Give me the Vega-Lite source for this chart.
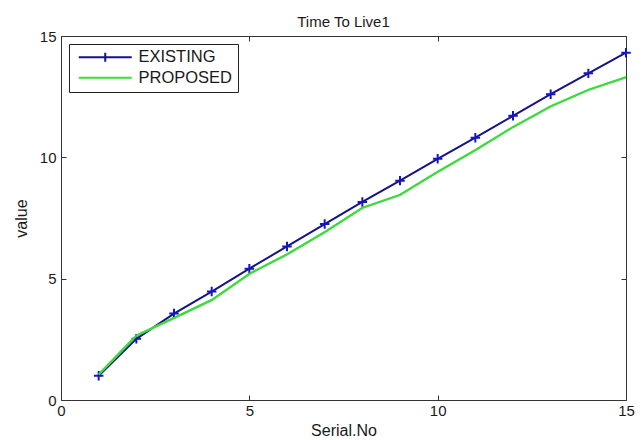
{
  "$schema": "https://vega.github.io/schema/vega-lite/v6.json",
  "width": 565,
  "height": 364,
  "autosize": {"type": "none"},
  "padding": {"left": 61, "top": 36, "right": 16, "bottom": 40},
  "background": "white",
  "title": {"text": "Time To Live1", "font": "Liberation Sans", "fontSize": 15, "fontWeight": "normal", "color": "#1a1a1a", "baseline": "alphabetic", "offset": 10, "dy": 23},
  "data": {
    "values": [
      {"serial": 1, "value": 1.0, "series": "EXISTING"},
      {"serial": 2, "value": 2.52, "series": "EXISTING"},
      {"serial": 3, "value": 3.56, "series": "EXISTING"},
      {"serial": 4, "value": 4.47, "series": "EXISTING"},
      {"serial": 5, "value": 5.41, "series": "EXISTING"},
      {"serial": 6, "value": 6.33, "series": "EXISTING"},
      {"serial": 7, "value": 7.25, "series": "EXISTING"},
      {"serial": 8, "value": 8.16, "series": "EXISTING"},
      {"serial": 9, "value": 9.04, "series": "EXISTING"},
      {"serial": 10, "value": 9.94, "series": "EXISTING"},
      {"serial": 11, "value": 10.81, "series": "EXISTING"},
      {"serial": 12, "value": 11.71, "series": "EXISTING"},
      {"serial": 13, "value": 12.6, "series": "EXISTING"},
      {"serial": 14, "value": 13.46, "series": "EXISTING"},
      {"serial": 15, "value": 14.31, "series": "EXISTING"},
      {"serial": 1, "value": 1.05, "series": "PROPOSED"},
      {"serial": 2, "value": 2.65, "series": "PROPOSED"},
      {"serial": 3, "value": 3.38, "series": "PROPOSED"},
      {"serial": 4, "value": 4.12, "series": "PROPOSED"},
      {"serial": 5, "value": 5.2, "series": "PROPOSED"},
      {"serial": 6, "value": 6.0, "series": "PROPOSED"},
      {"serial": 7, "value": 6.92, "series": "PROPOSED"},
      {"serial": 8, "value": 7.92, "series": "PROPOSED"},
      {"serial": 9, "value": 8.45, "series": "PROPOSED"},
      {"serial": 10, "value": 9.4, "series": "PROPOSED"},
      {"serial": 11, "value": 10.3, "series": "PROPOSED"},
      {"serial": 12, "value": 11.25, "series": "PROPOSED"},
      {"serial": 13, "value": 12.1, "series": "PROPOSED"},
      {"serial": 14, "value": 12.78, "series": "PROPOSED"},
      {"serial": 15, "value": 13.3, "series": "PROPOSED"}
    ]
  },
  "layer": [
    {
      "encoding": {
        "x": {"field": "serial", "type": "quantitative", "scale": {"domain": [0, 15], "nice": false, "zero": false},
              "axis": {"values": [0, 5, 10, 15], "title": "Serial.No", "titleY": 35, "titleBaseline": "alphabetic", "labelPadding": 8}},
        "y": {"field": "value", "type": "quantitative", "scale": {"domain": [0, 15], "nice": false, "zero": false},
              "axis": {"values": [0, 5, 10, 15], "title": "value", "titleX": -35, "titleBaseline": "alphabetic", "labelPadding": 10}}
      },
      "layer": [
        {
          "mark": {"type": "line", "strokeWidth": 2},
          "encoding": {
            "color": {"field": "series", "type": "nominal",
              "scale": {"domain": ["EXISTING", "PROPOSED"], "range": ["#14148a", "#3ddc3d"]},
              "legend": {
                "title": null, "orient": "none", "legendX": 8, "legendY": 8,
                "strokeColor": "#222", "fillColor": "white", "padding": 5,
                "symbolSize": 100, "symbolStrokeWidth": 2, "symbolOffset": 23, "labelOffset": 25,
                "symbolType": "M-5.3,0H5.3",
                "labelFont": "Liberation Sans", "labelFontSize": 16.5, "labelColor": "#1a1a1a", "rowPadding": 3.5,
                "encode": {"symbols": {"update": {"shape": {"signal": "datum.value === 'EXISTING' ? 'M-5.3,0H5.3M0,-0.9V0.9' : 'M-5.3,0H5.3'"}}}}
              }
            }
          }
        },
        {
          "transform": [{"filter": "datum.series === 'EXISTING'"}],
          "mark": {"type": "point", "shape": "M-1,0H1M0,-1V1", "size": 90, "strokeWidth": 2, "filled": false, "color": "#1414c8", "opacity": 1}
        },
        {
          "transform": [{"filter": "datum.series === 'PROPOSED'"}],
          "mark": {"type": "line", "strokeWidth": 2, "color": "#3ddc3d"}
        }
      ]
    },
    {
      "mark": {"type": "line", "opacity": 0},
      "encoding": {
        "x": {"field": "serial", "type": "quantitative", "scale": {"domain": [0, 15], "nice": false, "zero": false},
              "axis": {"orient": "top", "values": [0, 5, 10, 15], "labels": false, "title": null}},
        "y": {"field": "value", "type": "quantitative", "scale": {"domain": [0, 15], "nice": false, "zero": false},
              "axis": {"orient": "right", "values": [0, 5, 10, 15], "labels": false, "title": null}}
      }
    }
  ],
  "resolve": {"axis": {"x": "independent", "y": "independent"}},
  "config": {
    "view": {"stroke": null},
    "axis": {
      "domainColor": "#333", "tickColor": "#333", "tickSize": -5, "labelPadding": 7,
      "labelFont": "Liberation Sans", "labelFontSize": 15, "labelColor": "#1a1a1a",
      "titleFont": "Liberation Sans", "titleFontSize": 16, "titleFontWeight": "normal", "titleColor": "#1a1a1a",
      "grid": false, "labelFlush": false, "labelOverlap": false
    }
  }
}
